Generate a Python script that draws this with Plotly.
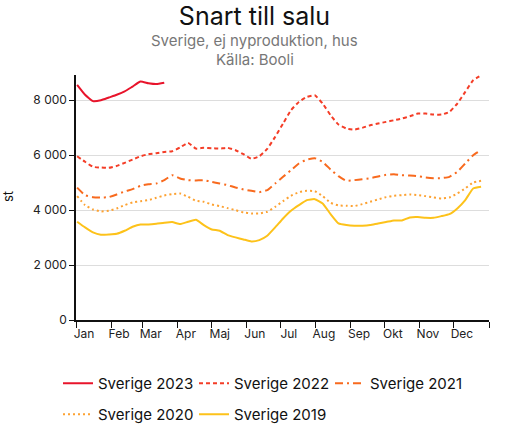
import plotly.graph_objects as go
import pandas as pd

weeks = pd.date_range("2023-01-02", periods=52, freq="7D")

s2023 = [8560, 8200, 7970, 8000, 8100, 8200, 8320, 8500, 8680, 8620, 8590, 8640]
s2022 = [5960, 5760, 5576, 5552, 5540, 5610, 5720, 5840, 5960, 6036, 6073, 6120, 6145, 6280, 6450, 6240, 6270, 6255,
         6240, 6270, 6180, 6036, 5870, 5960, 6230, 6667, 7152, 7636, 7940, 8121, 8182, 7879, 7455, 7115, 6970,
         6934, 6995, 7092, 7152, 7213, 7273, 7334, 7419, 7516, 7516, 7480, 7480, 7576, 7879, 8304, 8728, 8910]
s2021 = [4820, 4546, 4473, 4461, 4473, 4570, 4679, 4764, 4885, 4946, 4970, 5091, 5273, 5152, 5091, 5079, 5091, 5030,
         4970, 4909, 4824, 4752, 4703, 4655, 4727, 4970, 5212, 5455, 5697, 5842, 5891, 5758, 5479, 5237, 5068,
         5092, 5128, 5164, 5225, 5286, 5310, 5274, 5262, 5237, 5189, 5164, 5164, 5213, 5395, 5698, 6000, 6183]
s2020 = [4510, 4182, 4024, 3952, 3976, 4061, 4182, 4279, 4327, 4364, 4449, 4534, 4582, 4606, 4485, 4340, 4303, 4206,
         4146, 4073, 4000, 3915, 3879, 3879, 3940, 4121, 4328, 4522, 4655, 4703, 4691, 4510, 4267, 4170, 4159,
         4147, 4219, 4304, 4389, 4474, 4522, 4546, 4571, 4546, 4510, 4461, 4425, 4461, 4607, 4789, 5007, 5068]
s2019 = [3576, 3370, 3188, 3103, 3115, 3140, 3249, 3394, 3479, 3479, 3503, 3540, 3564, 3491, 3576, 3649, 3455, 3297,
         3249, 3091, 3007, 2934, 2861, 2910, 3067, 3370, 3697, 3976, 4182, 4364, 4400, 4243, 3855, 3516, 3456,
         3431, 3431, 3456, 3516, 3565, 3625, 3625, 3734, 3746, 3722, 3722, 3783, 3855, 4062, 4365, 4789, 4850]

month_ticks = pd.date_range("2023-01-01", periods=13, freq="MS")
month_labels = ["Jan", "Feb", "Mar", "Apr", "Maj", "Jun", "Jul", "Aug", "Sep", "Okt", "Nov", "Dec", ""]

series = [
    ("Sverige 2023", s2023, "#e8142b", "solid", "legend"),
    ("Sverige 2022", s2022, "#f43d27", "4px,3px", "legend"),
    ("Sverige 2021", s2021, "#f86a1e", "8px,4px,2px,4px", "legend"),
    ("Sverige 2020", s2020, "#fda232", "2px,3px", "legend2"),
    ("Sverige 2019", s2019, "#fdc21a", "solid", "legend2"),
]

FONT = "Inter, Lato, sans-serif"
W, H = 509, 439
fig = go.Figure()
for name, vals, color, dash, lg in series:
    fig.add_trace(go.Scatter(
        x=weeks[:len(vals)], y=vals, name=name, mode="lines", legend=lg,
        line=dict(color=color, width=2, dash=dash, shape="spline", smoothing=0.4),
    ))

legend_common = dict(orientation="h", xref="container", yref="container",
                     x=58 / W, xanchor="left", yanchor="top",
                     entrywidth=91, entrywidthmode="pixels", tracegroupgap=0,
                     bgcolor="rgba(0,0,0,0)",
                     font=dict(size=15, color="#111", family=FONT), itemwidth=30)

fig.update_layout(
    width=W, height=H,
    margin=dict(l=76, r=20, t=75, b=119, autoexpand=False),
    paper_bgcolor="white", plot_bgcolor="white",
    font=dict(family=FONT, color="#222", size=11),
    separators=", ",
    title=dict(text="Snart till salu", x=254.5 / W, xanchor="center", y=1 - 16 / H, yanchor="middle",
               font=dict(size=25, color="#111", family=FONT)),
    showlegend=True,
    legend=dict(legend_common, y=1 - 367 / H),
    legend2=dict(legend_common, y=1 - 398 / H),
    xaxis=dict(
        type="date", range=["2023-01-01", "2024-01-01"],
        tickvals=month_ticks, ticktext=month_labels,
        ticks="outside", ticklen=2, tickcolor="#111", tickwidth=1,
        minor=dict(ticks="outside", ticklen=6, tickcolor="#111", tickwidth=1,
                   tick0="2023-01-01", dtick="M1", showgrid=False),
        showline=True, linecolor="#111", linewidth=1.5,
        showgrid=False, zeroline=False, ticklabelshift=8, automargin=False,
        tickfont=dict(size=12, color="#222"),
    ),
    yaxis=dict(
        range=[0, 8920], tickvals=[0, 2000, 4000, 6000, 8000],
        tickformat=",d",
        ticks="outside", ticklen=5, tickcolor="#111",
        showline=True, linecolor="#111", linewidth=1.5,
        showgrid=True, gridcolor="#dddddd", gridwidth=1, zeroline=False,
        automargin=False,
        tickfont=dict(size=12, color="#222"),
    ),
    annotations=[
        dict(text="Sverige, ej nyproduktion, hus", x=(254.5 - 76) / 413, xref="paper",
             y=(320 - 41) / 245, yref="paper", yanchor="middle", xanchor="center", showarrow=False,
             font=dict(size=15, color="#777", family=FONT)),
        dict(text="Källa: Booli", x=(254.5 - 76) / 413, xref="paper",
             y=(320 - 59) / 245, yref="paper", yanchor="middle", xanchor="center", showarrow=False,
             font=dict(size=15, color="#777", family=FONT)),
        dict(text="st", x=(8 - 76) / 413, xref="paper", y=(320 - 197) / 245, yref="paper",
             textangle=-90, showarrow=False, xanchor="center", yanchor="middle",
             font=dict(size=13, color="#111", family=FONT)),
    ],
)

fig.write_html("out.html", config={"displayModeBar": False},
               post_script="document.body.style.margin='0';")
